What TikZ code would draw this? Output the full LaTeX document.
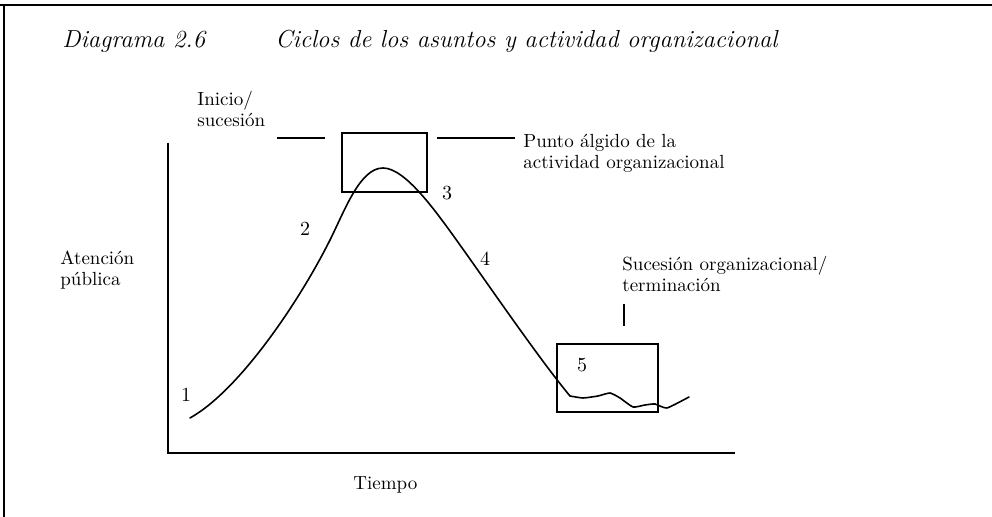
\documentclass[tikz,border=0pt]{standalone}
\usetikzlibrary{positioning}

\tikzset{
  txt/.style={inner sep=0pt, font=\fontsize{9.5}{10.5}\selectfont},
  lbl/.style={txt, align=left, anchor=north west},
  num/.style={txt, font=\fontsize{10}{12}\selectfont},
  titulo/.style={inner sep=0pt, anchor=base west, font=\fontsize{12.3}{14}\selectfont\itshape},
  marco/.style={draw, line width=0.8pt, inner sep=0pt, anchor=north west},
  eje/.style={line width=1pt},
  curva/.style={line width=0.8pt, line join=round, line cap=round}
}

\begin{document}
\begin{tikzpicture}[x=0.5pt,y=-0.5pt]
  \useasboundingbox (0,0) rectangle (992,517);
  % page frame
  \draw[line width=1pt] (0,5) -- (992,5);
  \draw[line width=1pt] (4,5) -- (4,517);

  % title
  \node[titulo] (diagrama) at (62,48) {Diagrama 2.6};
  \node[titulo] (ciclos) at (275,48) {Ciclos de los asuntos y actividad organizacional};

  % axes
  \coordinate (ytop) at (168,143);
  \coordinate (origen) at (168,453);
  \coordinate (xend) at (735,453);
  \draw[eje] (ytop) -- (origen) -- (xend);
  \node[lbl] (atencion) at (60,251) {Atención\\pública};
  \node[txt, anchor=base west] (tiempo) at (353,490) {Tiempo};

  % highlighted boxes
  \node[marco, minimum width=42.5pt, minimum height=29.5pt] (pico) at (341,132) {};
  \node[marco, minimum width=50.5pt, minimum height=34pt] (final) at (556,343) {};

  % curve
  \draw[curva] (190,418) .. controls (240,390) and (300,300) .. (330,240)
    .. controls (345,210) and (360,168) .. (383,168)
    .. controls (405,168) and (435,210) .. (460,245)
    .. controls (490,287) and (540,360) .. (570,396);
  \draw[curva] plot[smooth, tension=0.3] coordinates {
    (570,396) (583,398) (598,396) (610,393) (620,398) (633,407) (645,405)
    (655,404) (667,408) (689,397)};

  % numbers
  \node[num] (n1) at (186,395) {1};
  \node[num] (n2) at (305,229) {2};
  \node[num] (n3) at (447,193) {3};
  \node[num] (n4) at (485,259) {4};
  \node[num] (n5) at (582,365) {5};

  % labels
  \node[lbl] (inicio) at (197,91) {Inicio/\\sucesión};
  \coordinate (inicio-a) at (277,138);
  \coordinate (inicio-b) at (325,138);
  \draw[line width=0.9pt] (inicio-a) -- (inicio-b);

  \node[lbl] (punto) at (523,134) {Punto álgido de la\\actividad organizacional};
  \coordinate (punto-a) at (437,138);
  \coordinate (punto-b) at (515,138);
  \draw[line width=0.9pt] (punto-a) -- (punto-b);

  \node[lbl] (sucesion) at (622,256) {Sucesión organizacional/\\terminación};
  \coordinate (suc-a) at (624,304);
  \coordinate (suc-b) at (624,326);
  \draw[line width=0.9pt] (suc-a) -- (suc-b);
\end{tikzpicture}
\end{document}
